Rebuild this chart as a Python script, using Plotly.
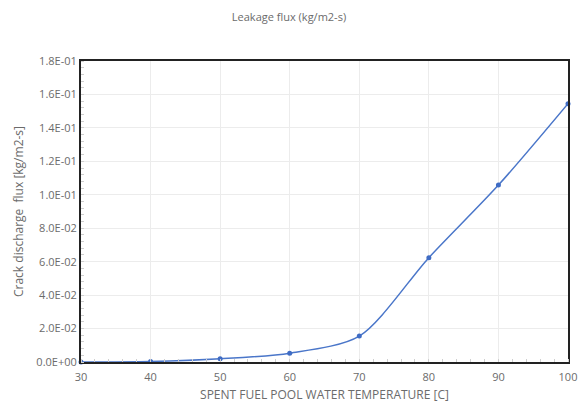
import plotly.graph_objects as go

temperature = [30, 40, 50, 60, 70, 80, 90, 100]
flux = [0.0, 0.0003, 0.0019, 0.0053, 0.0155, 0.0624, 0.1058, 0.1545]

y_tickvals = [0, 0.02, 0.04, 0.06, 0.08, 0.10, 0.12, 0.14, 0.16, 0.18]
y_ticktext = ["0.0E+00", "2.0E-02", "4.0E-02", "6.0E-02", "8.0E-02",
              "1.0E-01", "1.2E-01", "1.4E-01", "1.6E-01", "1.8E-01"]
x_tickvals = [30, 40, 50, 60, 70, 80, 90, 100]

title_text = "Leakage flux (kg/m2-s)"
x_title = "SPENT FUEL POOL WATER TEMPERATURE [C]"
y_title = "Crack discharge  flux [kg/m2-s]"

font_family = "Open Sans, Liberation Sans, sans-serif"
gray = "#6b6b6b"

fig = go.Figure()
fig.add_trace(go.Scatter(
    x=temperature, y=flux,
    mode="lines+markers",
    line=dict(shape="spline", smoothing=0.8, color="#4a76c9", width=1.5),
    marker=dict(size=5, color="#3f6cc4"),
    showlegend=False,
    cliponaxis=False,
))

fig.update_layout(
    width=578, height=403,
    margin=dict(l=81, r=10, t=61, b=41, autoexpand=False),
    paper_bgcolor="white", plot_bgcolor="white",
    font=dict(family=font_family, color=gray, size=10),
    title=dict(text=title_text, x=0.5, xanchor="center", y=1 - 17 / 403, yanchor="middle",
               font=dict(size=11, color=gray, family=font_family)),
)

fig.update_xaxes(
    range=[30, 100],
    tickvals=x_tickvals,
    showgrid=True, gridcolor="#ececec", gridwidth=1,
    showline=True, linecolor="#222222", linewidth=2, mirror=True,
    ticks="", ticklabelstandoff=4, tickfont=dict(size=11, color=gray),
    minor=dict(ticks="inside", dtick=2, ticklen=3, tickcolor="#cfcfcf", showgrid=False),
    title=dict(text=x_title, font=dict(size=12, color=gray), standoff=8),
    zeroline=False, automargin=False,
)
fig.update_yaxes(
    range=[0, 0.18],
    tickvals=y_tickvals, ticktext=y_ticktext,
    showgrid=True, gridcolor="#ececec", gridwidth=1,
    showline=True, linecolor="#222222", linewidth=2, mirror=True,
    ticks="", tickfont=dict(size=11, color=gray),
    minor=dict(ticks="inside", dtick=0.004, ticklen=3, tickcolor="#cfcfcf", showgrid=False),
    title=dict(text=y_title, font=dict(size=12, color=gray), standoff=10),
    zeroline=False, automargin=False,
)

fig.write_html("out.html", config={"displayModeBar": False},
               post_script="document.body.style.margin='0';document.body.style.overflow='hidden';")
